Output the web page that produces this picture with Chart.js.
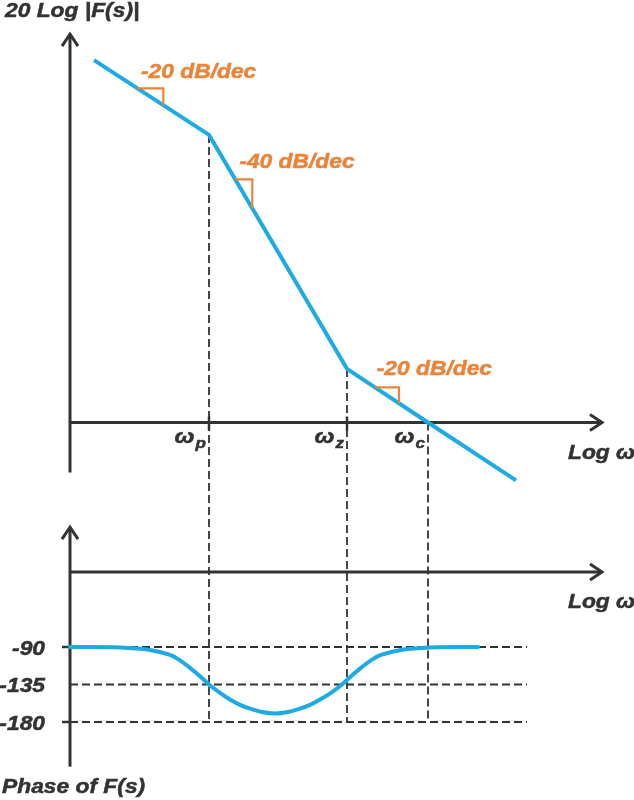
<!DOCTYPE html>
<html>
<head>
<meta charset="utf-8">
<title>Bode plot</title>
<script src="https://cdn.jsdelivr.net/npm/chart.js@4.4.1/dist/chart.umd.min.js"></script>
<style>
  html, body { margin: 0; padding: 0; background: #fff; }
  #bode { display: block; }
</style>
</head>
<body>
<canvas id="bode" width="634" height="800"></canvas>
<script>
// x values are log(omega) in decades, measured from the vertical axis
var magFreq = [0.24, 1.39, 2.77, 3.58, 4.46];
var magDb = [111.5, 88.5, 16.5, 0, -17.8];

var phaseFreq = [0.00, 0.50, 0.80, 1.00, 1.10, 1.20, 1.30, 1.39, 1.50, 1.60, 1.70, 1.80, 1.92, 2.05,
                 2.18, 2.30, 2.40, 2.50, 2.61, 2.72, 2.81, 2.91, 3.01, 3.11, 3.31, 3.61, 4.08];
var phaseDeg = [-90, -90.6, -93.5, -99.5, -106, -115, -125, -135, -145, -153, -159.5, -164, -168, -169.8,
                -168, -164, -159.5, -153, -145, -135, -125, -115, -106, -99.5, -93.5, -90.6, -90];

var cornerFreq = [1.39, 2.77, 3.58];
var cornerNames = ['p', 'z', 'c'];

var phaseTicks = [-90, -135, -180];
var phaseTickLabels = ['-90', '-135', '-180'];

var slopeLabels = ['-20 dB/dec', '-40 dB/dec', '-20 dB/dec'];

var blue = '#1eaae2';
var orange = '#e9843a';
var ink = '#333333';
var font = '"Liberation Sans", Arial, sans-serif';

function magAt(f) {
    for (var i = 0; i < magFreq.length - 1; i++) {
        if (f <= magFreq[i + 1]) {
            var t = (f - magFreq[i]) / (magFreq[i + 1] - magFreq[i]);
            return magDb[i] + t * (magDb[i + 1] - magDb[i]);
        }
    }
    return magDb[magDb.length - 1];
}

// the lettering in the picture is a little wider than plain Arial, so stretch it
var stretch = 1.14;

function drawText(ctx, str, x, y, align, size, color) {
    ctx.save();
    ctx.font = 'italic bold ' + size + 'px ' + font;
    ctx.fillStyle = color;
    ctx.strokeStyle = color;
    ctx.lineWidth = 0.5;
    ctx.textAlign = align;
    ctx.textBaseline = 'alphabetic';
    ctx.translate(x, y);
    ctx.scale(stretch, 1);
    ctx.fillText(str, 0, 0);
    ctx.strokeText(str, 0, 0);
    ctx.restore();
}

function textWidth(ctx, str, size) {
    ctx.save();
    ctx.font = 'italic bold ' + size + 'px ' + font;
    var w = ctx.measureText(str).width * stretch;
    ctx.restore();
    return w;
}

function seg(ctx, x1, y1, x2, y2) {
    ctx.beginPath();
    ctx.moveTo(x1, y1);
    ctx.lineTo(x2, y2);
    ctx.stroke();
}

function arrowUp(ctx, x, y) {
    ctx.beginPath();
    ctx.moveTo(x - 8, y + 13);
    ctx.lineTo(x, y + 1);
    ctx.lineTo(x + 8, y + 13);
    ctx.stroke();
}

function arrowRight(ctx, x, y) {
    ctx.beginPath();
    ctx.moveTo(x - 13, y - 8);
    ctx.lineTo(x - 1, y);
    ctx.lineTo(x - 13, y + 8);
    ctx.stroke();
}

var bodePlugin = {
    id: 'bode',
    beforeDatasetsDraw: function (chart) {
        var ctx = chart.ctx;
        var sx = chart.scales.x, ym = chart.scales.yMag, yp = chart.scales.yPh;
        var x0 = sx.getPixelForValue(0);
        var xEnd = sx.getPixelForValue(5.33);

        ctx.save();
        ctx.strokeStyle = ink;
        ctx.lineWidth = 3;
        ctx.lineJoin = 'miter';

        // magnitude axes
        var magTop = ym.getPixelForValue(119.8);
        seg(ctx, x0, magTop + 2, x0, ym.getPixelForValue(-15.4));
        arrowUp(ctx, x0, magTop);
        seg(ctx, x0, ym.getPixelForValue(0), xEnd - 2, ym.getPixelForValue(0));
        arrowRight(ctx, xEnd, ym.getPixelForValue(0));

        // phase axes
        var phTop = yp.getPixelForValue(55);
        seg(ctx, x0, phTop + 2, x0, yp.getPixelForValue(-233.6));
        arrowUp(ctx, x0, phTop);
        seg(ctx, x0, yp.getPixelForValue(0), xEnd - 2, yp.getPixelForValue(0));
        arrowRight(ctx, xEnd, yp.getPixelForValue(0));

        // small ticks
        ctx.lineWidth = 2.5;
        [phaseTicks[0], phaseTicks[2]].forEach(function (v) {
            var y = yp.getPixelForValue(v);
            seg(ctx, x0 - 8, y, x0, y);
        });
        [cornerFreq[0], cornerFreq[1]].forEach(function (f) {
            var x = sx.getPixelForValue(f);
            seg(ctx, x, ym.getPixelForValue(0) - 6, x, ym.getPixelForValue(0) + 8);
        });

        // vertical dashed guides from the magnitude curve down to -180
        ctx.lineWidth = 1.8;
        ctx.setLineDash([8, 4]);
        cornerFreq.forEach(function (f) {
            var x = sx.getPixelForValue(f);
            seg(ctx, x, ym.getPixelForValue(magAt(f)), x, yp.getPixelForValue(-180));
        });
        ctx.restore();
    },
    afterDatasetsDraw: function (chart) {
        var ctx = chart.ctx;
        var sx = chart.scales.x, ym = chart.scales.yMag, yp = chart.scales.yPh;

        // right-angle slope markers on each segment
        var markers = [[0.674, 0.933], [1.653, 1.823], [3.048, 3.29]];
        ctx.save();
        ctx.strokeStyle = orange;
        ctx.lineWidth = 2.2;
        markers.forEach(function (m) {
            var yH = ym.getPixelForValue(magAt(m[0]));
            var x1 = sx.getPixelForValue(m[0]);
            var x2 = sx.getPixelForValue(m[1]);
            ctx.beginPath();
            ctx.moveTo(x1, yH);
            ctx.lineTo(x2, yH);
            ctx.lineTo(x2, ym.getPixelForValue(magAt(m[1])));
            ctx.stroke();
        });
        ctx.restore();

        // slope labels
        var slopePos = [[0.71, 105.9], [1.693, 78.2], [3.067, 14.6]];
        slopeLabels.forEach(function (s, i) {
            drawText(ctx, s, sx.getPixelForValue(slopePos[i][0]), ym.getPixelForValue(slopePos[i][1]), 'left', 20, orange);
        });

        // titles
        drawText(ctx, '20 Log |F(s)|', 5, 17, 'left', 20, ink);
        drawText(ctx, 'Phase of F(s)', 2, 793, 'left', 20, ink);
        drawText(ctx, 'Log ω', 568, ym.getPixelForValue(0) + 36, 'left', 20, ink);
        drawText(ctx, 'Log ω', 568, yp.getPixelForValue(0) + 36, 'left', 20, ink);

        // phase tick labels
        phaseTicks.forEach(function (v, i) {
            drawText(ctx, phaseTickLabels[i], 45, yp.getPixelForValue(v) + 7.5, 'right', 20, ink);
        });

        // corner frequency labels
        var axisY = ym.getPixelForValue(0);
        cornerFreq.forEach(function (f, i) {
            var x = sx.getPixelForValue(f) - 3;
            var subW = textWidth(ctx, cornerNames[i], 15);
            drawText(ctx, cornerNames[i], x, axisY + 25, 'right', 15, ink);
            drawText(ctx, 'ω', x - subW - 1, axisY + 20, 'right', 21, ink);
        });
    }
};

function points(xs, ys) {
    return xs.map(function (x, i) { return {x: x, y: ys[i]}; });
}

function guide(v) {
    return {
        data: [{x: 0, y: v}, {x: 4.57, y: v}],
        yAxisID: 'yPh',
        borderColor: ink,
        borderWidth: 1.8,
        borderDash: [8, 4],
        pointRadius: 0,
        tension: 0
    };
}

var datasets = [
    {
        label: '20 Log |F(s)|',
        data: points(magFreq, magDb),
        yAxisID: 'yMag',
        borderColor: blue,
        borderWidth: 4,
        pointRadius: 0,
        tension: 0
    },
    {
        label: 'Phase of F(s)',
        data: points(phaseFreq, phaseDeg),
        yAxisID: 'yPh',
        borderColor: blue,
        borderWidth: 4,
        pointRadius: 0,
        tension: 0.4,
        borderCapStyle: 'round'
    }
];
phaseTicks.forEach(function (v) { datasets.push(guide(v)); });

new Chart(document.getElementById('bode'), {
    type: 'line',
    data: {datasets: datasets},
    options: {
        responsive: false,
        animation: false,
        events: [],
        layout: {padding: 0},
        plugins: {legend: {display: false}, tooltip: {enabled: false}, title: {display: false}},
        scales: {
            x: {type: 'linear', min: -0.70, max: 5.64, display: false},
            yMag: {type: 'linear', min: -116.15, max: 130, display: false},
            yPh: {type: 'linear', min: -273.6, max: 686.4, display: false}
        }
    },
    plugins: [bodePlugin]
});
</script>
</body>
</html>
